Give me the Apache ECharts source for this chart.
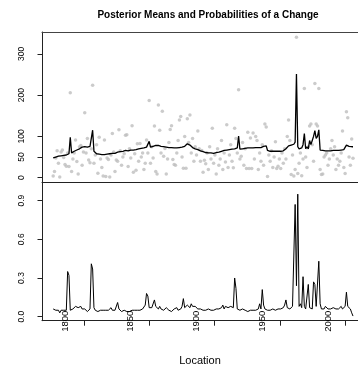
<!DOCTYPE html>
<html>
<head>
<meta charset="utf-8">
<script src="https://cdn.jsdelivr.net/npm/echarts@6/dist/echarts.min.js"></script>
<style>html,body{margin:0;padding:0;background:#fff}#c{width:358px;height:375px}</style>
</head>
<body>
<div id="c"></div>
<script>
const firstLocation = 1791;
const observed = [
  4, 15, 48, 65, 35, 2, 62, 67, 49, 32,
  28, 60, 27, 206, 15, 45, 60, 91, 39, 9,
  75, 78, 30, 62, 157, 60, 95, 43, 36, 70,
  224, 35, 55, 80, 11, 98, 45, 25, 4, 91,
  3, 48, 44, 2, 55, 107, 62, 15, 43, 40,
  116, 65, 30, 50, 58, 103, 104, 27, 70, 48,
  126, 13, 58, 18, 82, 40, 83, 50, 60, 20,
  35, 91, 60, 187, 35, 75, 48, 125, 15, 9,
  176, 115, 60, 161, 52, 71, 9, 45, 85, 117,
  126, 44, 32, 30, 60, 90, 140, 148, 50, 23,
  100, 23, 143, 85, 152, 60, 95, 40, 75, 55,
  113, 70, 40, 66, 13, 42, 34, 60, 20, 75,
  45, 120, 35, 55, 9, 70, 30, 45, 90, 20,
  60, 38, 128, 25, 55, 80, 40, 24, 120, 95,
  60, 213, 45, 52, 85, 30, 70, 22, 110, 22,
  96, 22, 108, 45, 100, 90, 20, 60, 40, 80,
  30, 130, 123, 3, 55, 40, 65, 25, 50, 87,
  22, 28, 45, 22, 60, 35, 70, 45, 100, 140,
  90, 8, 55, 4, 20, 340, 10, 35, 60, 5,
  45, 216, 50, 25, 75, 125, 130, 80, 40, 228,
  130, 125, 216, 20, 8, 9, 50, 55, 60, 30,
  45, 70, 90, 55, 75, 20, 45, 30, 40, 60,
  113, 25, 10, 160, 145, 50, 30, 94, 47
];
const posteriorMeans = [
  48, 49, 50, 51, 52, 52, 53, 54, 54, 55,
  55, 56, 58, 98, 60, 62, 64, 67, 67, 69,
  70, 72, 74, 74, 75, 75, 74, 75, 76, 78,
  115, 64, 60, 58, 57, 57, 56, 56, 55, 56,
  56, 57, 57, 58, 58, 59, 59, 59, 61, 62,
  63, 63, 64, 64, 65, 66, 66, 65, 66, 67,
  68, 67, 68, 68, 69, 70, 71, 71, 72, 72,
  73, 74, 76, 88, 74, 74, 76, 79, 78, 77,
  78, 77, 76, 76, 75, 75, 74, 74, 73, 73,
  73, 72, 72, 72, 72, 72, 73, 74, 74, 75,
  76, 79, 82, 83, 79, 75, 73, 71, 70, 69,
  68, 66, 65, 64, 63, 62, 61, 61, 60, 60,
  60, 59, 59, 60, 61, 61, 62, 63, 64, 65,
  66, 66, 67, 67, 68, 68, 69, 69, 70, 71,
  72, 101, 69, 70, 70, 71, 71, 71, 72, 72,
  72, 72, 72, 73, 73, 73, 73, 73, 73, 74,
  76, 79, 77, 66, 64, 64, 64, 64, 64, 64,
  64, 64, 64, 64, 64, 65, 66, 70, 74, 77,
  79, 79, 80, 81, 86, 251, 75, 70, 68, 72,
  80, 107, 70, 75, 70, 90, 80, 90, 100, 114,
  95, 100, 116, 67, 66, 66, 65, 65, 65, 65,
  65, 65, 66, 66, 66, 66, 66, 66, 67, 67,
  68, 68, 70, 79, 78, 76, 76, 75, 75
];
const posteriorProbs = [
  0.06, 0.055, 0.05, 0.04, 0.05, 0.03, 0.05, 0.05, 0.05, 0.05,
  0.05, 0.35, 0.32, 0.05, 0.05, 0.06, 0.05, 0.08, 0.07, 0.07,
  0.06, 0.08, 0.06, 0.05, 0.06, 0.05, 0.04, 0.04, 0.06, 0.41,
  0.37, 0.07, 0.05, 0.06, 0.04, 0.04, 0.05, 0.04, 0.05, 0.04,
  0.05, 0.06, 0.05, 0.04, 0.07, 0.05, 0.04, 0.05, 0.06, 0.11,
  0.06, 0.05, 0.04, 0.04, 0.05, 0.06, 0.04, 0.05, 0.04, 0.05,
  0.05, 0.04, 0.05, 0.05, 0.05, 0.05, 0.05, 0.06, 0.06, 0.05,
  0.09, 0.18, 0.16, 0.07, 0.06, 0.07, 0.08, 0.13, 0.08, 0.07,
  0.06, 0.08, 0.06, 0.05, 0.05, 0.05, 0.07, 0.06, 0.05, 0.05,
  0.04, 0.05, 0.06, 0.06, 0.07, 0.05, 0.05, 0.06, 0.08, 0.14,
  0.07, 0.06, 0.09, 0.08, 0.07, 0.10, 0.08, 0.07, 0.08, 0.07,
  0.06, 0.05, 0.06, 0.07, 0.05, 0.06, 0.05, 0.05, 0.06, 0.05,
  0.05, 0.06, 0.05, 0.06, 0.06, 0.07, 0.06, 0.06, 0.07, 0.09,
  0.06, 0.08, 0.07, 0.07, 0.07, 0.08, 0.07, 0.07, 0.30, 0.22,
  0.06, 0.06, 0.05, 0.05, 0.06, 0.05, 0.05, 0.05, 0.04, 0.04,
  0.05, 0.04, 0.05, 0.06, 0.05, 0.05, 0.06, 0.10, 0.06, 0.21,
  0.09, 0.06, 0.06, 0.05, 0.06, 0.05, 0.05, 0.06, 0.06, 0.05,
  0.06, 0.06, 0.07, 0.06, 0.06, 0.07, 0.09, 0.13, 0.07, 0.07,
  0.06, 0.07, 0.08, 0.07, 0.87, 0.24, 0.95, 0.08, 0.10, 0.07,
  0.31, 0.08, 0.06, 0.07, 0.25, 0.07, 0.08, 0.06, 0.27, 0.25,
  0.08, 0.09, 0.43, 0.10, 0.06, 0.07, 0.06, 0.08, 0.07, 0.06,
  0.07, 0.06, 0.06, 0.07, 0.06, 0.06, 0.07, 0.06, 0.07, 0.08,
  0.06, 0.07, 0.08, 0.19, 0.08, 0.09, 0.06, 0.03, 0.005
];
const locations = observed.map((_, i) => firstLocation + i);
const xLabelValues = [1800, 1850, 1900, 1950, 2000];
const xTickValues = [1814.5, 1864, 1913.5, 1963.5, 2013];
const meanTicks = [0, 50, 100, 200, 300];
const probTicks = [0, 0.3, 0.6, 0.9];

const FONT = 'Liberation Sans, Arial, Helvetica, sans-serif';
const AX = '#222';
const xMin = 1782.5, xMax = 2022.8;

const chart = echarts.init(document.getElementById('c'), null, {renderer: 'canvas'});
chart.setOption({
  animation: false,
  backgroundColor: '#fff',
  title: {
    text: 'Posterior Means and Probabilities of a Change',
    left: 203, top: 5, textAlign: 'center',
    textStyle: {fontFamily: FONT, fontSize: 10, fontWeight: 'bold', color: '#000'}
  },
  grid: [
    {left: 42, top: 32, right: 0, height: 150},
    {left: 42, top: 182, right: 0, bottom: 54.3}
  ],
  xAxis: [
    {gridIndex: 0, type: 'value', min: xMin, max: xMax, position: 'bottom',
     axisLine: {show: true, onZero: false, lineStyle: {color: AX, width: 1}},
     axisTick: {show: false}, axisLabel: {show: false}, splitLine: {show: false}},
    {gridIndex: 0, type: 'value', min: xMin, max: xMax, position: 'top',
     axisLine: {show: true, onZero: false, lineStyle: {color: '#444', width: 1}},
     axisTick: {show: false}, axisLabel: {show: false}, splitLine: {show: false}},
    {gridIndex: 1, type: 'value', min: xMin, max: xMax, position: 'bottom',
     name: 'Location', nameLocation: 'middle', nameGap: 35,
     nameTextStyle: {fontFamily: FONT, fontSize: 11, color: '#000'},
     axisLine: {show: true, onZero: false, lineStyle: {color: AX, width: 1}},
     axisTick: {show: true, length: 5, customValues: xTickValues, lineStyle: {color: AX}},
     axisLabel: {show: true, customValues: xLabelValues, rotate: 90, margin: -10,
                 fontFamily: FONT, fontSize: 9.5, color: '#000',
                 formatter: v => String(Math.round(v))},
     splitLine: {show: false}}
  ],
  yAxis: [
    {gridIndex: 0, type: 'value', min: -10.4, max: 352.8,
     axisLine: {show: true, lineStyle: {color: AX, width: 1}},
     axisTick: {show: true, length: 4.5, customValues: meanTicks, lineStyle: {color: AX}},
     axisLabel: {show: true, customValues: meanTicks, rotate: 90, margin: 16,
                 fontFamily: FONT, fontSize: 8.5, color: '#000',
                 formatter: v => String(Math.round(v))},
     splitLine: {show: false}},
    {gridIndex: 1, type: 'value', min: -0.031, max: 1.044,
     axisLine: {show: true, lineStyle: {color: AX, width: 1}},
     axisTick: {show: true, length: 4.5, customValues: probTicks, lineStyle: {color: AX}},
     axisLabel: {show: true, customValues: probTicks, rotate: 90, margin: 16,
                 fontFamily: FONT, fontSize: 8.5, color: '#000',
                 formatter: v => Number(v).toFixed(1)},
     splitLine: {show: false}}
  ],
  series: [
    {type: 'scatter', xAxisIndex: 0, yAxisIndex: 0, symbolSize: 3.5,
     itemStyle: {color: '#bebebe'}, silent: true,
     data: locations.map((x, i) => [x, observed[i]])},
    {type: 'line', xAxisIndex: 0, yAxisIndex: 0, showSymbol: false, silent: true,
     lineStyle: {color: '#000', width: 1.3},
     data: locations.map((x, i) => [x, posteriorMeans[i]])},
    {type: 'line', xAxisIndex: 2, yAxisIndex: 1, showSymbol: false, silent: true,
     lineStyle: {color: '#000', width: 1},
     data: locations.map((x, i) => [x, posteriorProbs[i]])}
  ]
});
</script>
</body>
</html>
